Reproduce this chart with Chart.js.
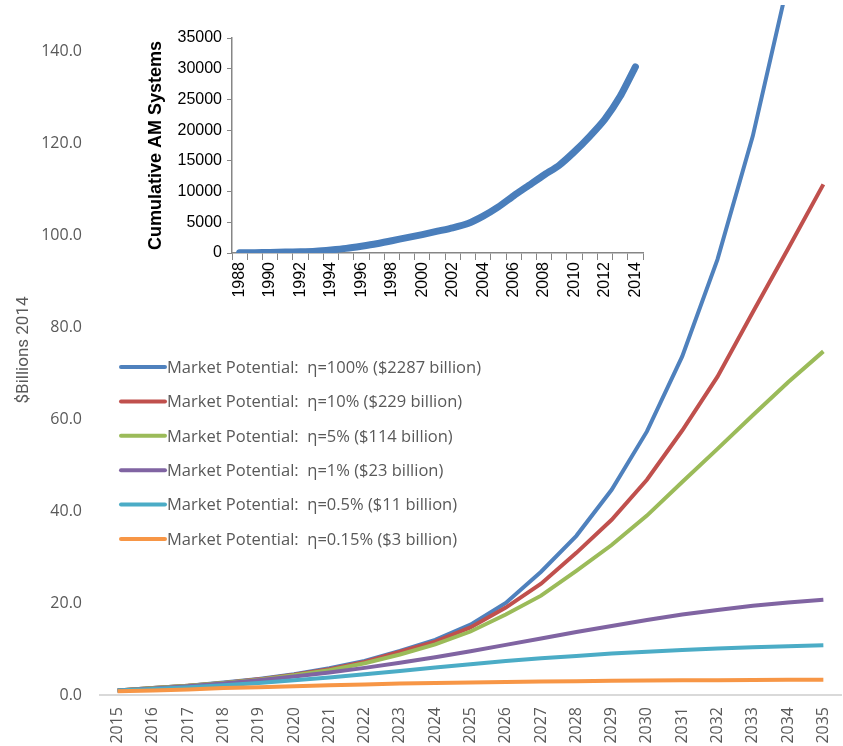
<!DOCTYPE html>
<html>
<head>
<meta charset="utf-8">
<script src="https://cdn.jsdelivr.net/npm/chart.js@4.4.1/dist/chart.umd.min.js"></script>
<style>
  html, body { margin: 0; padding: 0; background: #ffffff; }
  #wrap { position: relative; width: 843px; height: 746px; }
  #main { position: absolute; left: 0; top: 0; }
  #inset { position: absolute; left: 130px; top: 20px; }
</style>
</head>
<body>
<div id="wrap">
  <canvas id="main" width="843" height="746"></canvas>
  <canvas id="inset" width="530" height="300"></canvas>
</div>
<script>
// Projection years and market potential scenarios ($ billions, 2014 dollars)
const years = ['2015','2016','2017','2018','2019','2020','2021','2022','2023','2024','2025',
               '2026','2027','2028','2029','2030','2031','2032','2033','2034','2035'];

const seriesNames = [
  'Market Potential:  η=100% ($2287 billion)',
  'Market Potential:  η=10% ($229 billion)',
  'Market Potential:  η=5% ($114 billion)',
  'Market Potential:  η=1% ($23 billion)',
  'Market Potential:  η=0.5% ($11 billion)',
  'Market Potential:  η=0.15% ($3 billion)'
];

const eta100 = [1.0, 1.5, 2.0, 2.7, 3.5, 4.5, 5.8, 7.4, 9.6, 12.0, 15.3,
                20.0, 26.8, 34.6, 44.6, 57.3, 73.6, 94.7, 121.5, 155.0, 198.0];
const eta10  = [1.0, 1.5, 2.0, 2.6, 3.4, 4.4, 5.6, 7.2, 9.4, 11.6, 14.7,
                19.0, 24.2, 30.9, 38.1, 46.8, 57.5, 69.2, 83.2, 97.0, 111.0];
const eta5   = [1.0, 1.5, 2.0, 2.6, 3.3, 4.3, 5.4, 6.9, 8.8, 11.0, 13.8,
                17.5, 21.6, 27.0, 32.6, 39.0, 46.3, 53.5, 60.8, 68.0, 74.7];
const eta1   = [1.0, 1.4, 1.9, 2.5, 3.2, 4.0, 4.9, 5.9, 7.0, 8.2, 9.5,
                10.9, 12.3, 13.7, 15.0, 16.3, 17.5, 18.5, 19.4, 20.1, 20.7];
const eta05  = [1.0, 1.3, 1.7, 2.1, 2.6, 3.2, 3.8, 4.5, 5.2, 6.0, 6.7,
                7.4, 8.0, 8.5, 9.0, 9.4, 9.8, 10.1, 10.4, 10.6, 10.8];
const eta015 = [0.8, 1.0, 1.2, 1.5, 1.7, 1.9, 2.1, 2.3, 2.5, 2.6, 2.7,
                2.85, 2.95, 3.0, 3.1, 3.15, 3.2, 3.2, 3.25, 3.3, 3.3];

const yTickValues = [0, 20, 40, 60, 80, 100, 120, 140];

// Installed base of additive manufacturing systems
const amYears = ['1988','1989','1990','1991','1992','1993','1994','1995','1996','1997','1998',
                 '1999','2000','2001','2002','2003','2004','2005','2006','2007','2008',
                 '2009','2010','2011','2012','2013','2014'];
const amSystems = [30, 60, 100, 150, 200, 300, 500, 750, 1100, 1500, 2000,
                   2500, 3000, 3550, 4100, 4800, 6000, 7500, 9300, 11000, 12700,
                   14300, 16500, 19000, 21800, 25500, 30300];

const colors = ['#4F81BD', '#C0504D', '#9BBB59', '#8064A2', '#4BACC6', '#F79646'];
const seriesData = [eta100, eta10, eta5, eta1, eta05, eta015];

const GREY_TEXT = '#595959';

// Legend drawn inside the plot area, one row per scenario
const insideLegend = {
  id: 'insideLegend',
  afterDatasetsDraw(chart) {
    const { ctx, chartArea } = chart;
    ctx.save();
    ctx.font = '16.5px "Open Sans", sans-serif';
    ctx.textBaseline = 'middle';
    ctx.textAlign = 'left';
    chart.data.datasets.forEach((ds, i) => {
      const y = chartArea.top + 362 + i * 34.4;
      const x0 = chartArea.left + 21;
      ctx.strokeStyle = ds.borderColor;
      ctx.lineWidth = 4;
      ctx.lineCap = 'round';
      ctx.beginPath();
      ctx.moveTo(x0, y);
      ctx.lineTo(x0 + 44, y);
      ctx.stroke();
      ctx.fillStyle = GREY_TEXT;
      ctx.fillText(ds.label, x0 + 46, y + 1);
    });
    ctx.restore();
  }
};

new Chart(document.getElementById('main'), {
  type: 'line',
  data: {
    labels: years,
    datasets: seriesData.map((d, i) => ({
      label: seriesNames[i],
      data: d,
      borderColor: colors[i],
      backgroundColor: colors[i],
      borderWidth: 4,
      pointRadius: 0,
      tension: 0,
      fill: false,
      order: seriesData.length - i
    }))
  },
  options: {
    responsive: false,
    animation: false,
    layout: { padding: { top: 5, right: 2, bottom: 0, left: 0 } },
    plugins: { legend: { display: false }, tooltip: { enabled: false } },
    scales: {
      x: {
        type: 'category',
        offset: true,
        grid: { display: false, drawTicks: false },
        border: { display: true, color: '#D9D9D9', width: 2 },
        ticks: {
          color: GREY_TEXT,
          font: { family: '"Open Sans", sans-serif', size: 16 },
          minRotation: 90, maxRotation: 90,
          autoSkip: false,
          padding: 12
        },
        afterFit(scale) {
          scale.height = 51;
          scale.paddingLeft = 0;
          scale.paddingRight = 0;
        }
      },
      y: {
        min: 0,
        max: 150,
        grid: { display: false, drawTicks: false },
        border: { display: false },
        afterBuildTicks(scale) { scale.ticks = yTickValues.map(v => ({ value: v })); },
        ticks: {
          color: GREY_TEXT,
          font: { family: '"Open Sans", sans-serif', size: 16 },
          padding: 18,
          callback: v => Number(v).toFixed(1)
        },
        title: {
          display: true,
          text: '$Billions 2014',
          color: GREY_TEXT,
          font: { family: '"Liberation Sans Narrow", "Roboto", sans-serif', size: 17 },
          padding: { top: 14, bottom: 0 }
        },
        afterFit(scale) {
          scale.width = 100;
          scale.paddingTop = 0;
          scale.paddingBottom = 0;
        }
      }
    }
  },
  plugins: [insideLegend]
});

// Inset: cumulative AM systems
new Chart(document.getElementById('inset'), {
  type: 'line',
  data: {
    labels: amYears,
    datasets: [{
      label: 'Cumulative AM Systems',
      data: amSystems,
      borderColor: '#4A7EBB',
      borderWidth: 7,
      borderCapStyle: 'round',
      borderJoinStyle: 'round',
      pointRadius: 0,
      tension: 0.2,
      fill: false
    }]
  },
  options: {
    responsive: false,
    animation: false,
    layout: { padding: { top: 18, right: 17, bottom: 0, left: 0 } },
    plugins: { legend: { display: false }, tooltip: { enabled: false } },
    scales: {
      x: {
        type: 'category',
        offset: true,
        grid: { display: true, drawOnChartArea: false, drawTicks: true, tickLength: 7, offset: true, color: '#868686', lineWidth: 1 },
        border: { display: true, color: '#868686', width: 1.5 },
        ticks: {
          color: '#000000',
          font: { family: '"Liberation Sans", Arial, sans-serif', size: 16 },
          minRotation: 90, maxRotation: 90,
          autoSkip: false,
          padding: 2,
          callback: function (v, i) { return i % 2 === 0 ? this.getLabelForValue(v) : ''; }
        },
        afterFit(scale) {
          scale.height = 67;
          scale.paddingLeft = 0;
          scale.paddingRight = 0;
        }
      },
      y: {
        min: 0,
        max: 35000,
        grid: { display: true, drawOnChartArea: false, drawTicks: true, tickLength: 5, color: '#868686', lineWidth: 1 },
        border: { display: true, color: '#868686', width: 1.5 },
        ticks: {
          stepSize: 5000,
          color: '#000000',
          font: { family: '"Liberation Sans", Arial, sans-serif', size: 16 },
          padding: 5,
          callback: v => String(v)
        },
        title: {
          display: true,
          text: 'Cumulative AM Systems',
          color: '#000000',
          font: { family: '"Liberation Sans", Arial, sans-serif', size: 18, weight: 'bold' },
          padding: { top: 15, bottom: 0 }
        },
        afterFit(scale) {
          scale.width = 102;
          scale.paddingTop = 0;
          scale.paddingBottom = 0;
        }
      }
    }
  }
});
</script>
</body>
</html>
